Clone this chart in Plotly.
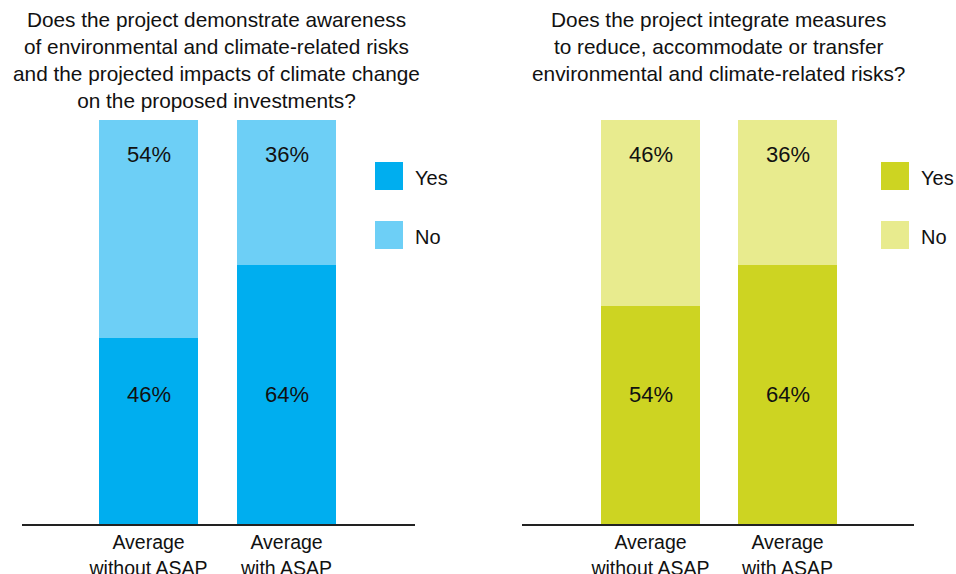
import plotly.graph_objects as go

W, H = 956, 574

categories = ["Average<br>without ASAP", "Average<br>with ASAP"]
awareness_yes = [46, 64]
awareness_no = [54, 36]
measures_yes = [54, 64]
measures_no = [46, 36]

title_left = ("Does the project demonstrate awareness<br>of environmental and climate-related risks"
              "<br>and the projected impacts of climate change<br>on the proposed investments?")
title_right = ("Does the project integrate measures<br>to reduce, accommodate or transfer"
               "<br>environmental and climate-related risks?")
legend_labels = ["Yes", "No"]

blue_yes, blue_no = "#00AEEF", "#6DCFF6"
green_yes, green_no = "#CDD422", "#E8EB8E"

FONT = "Liberation Sans, Arial, Helvetica, sans-serif"

fig = go.Figure()

def px_x(p):
    return p / W

def px_y(p):
    return 1 - p / H

panels = [
    dict(xa="x", ya="y", yes=awareness_yes, no=awareness_no, cy=blue_yes, cn=blue_no),
    dict(xa="x2", ya="y2", yes=measures_yes, no=measures_no, cy=green_yes, cn=green_no),
]

for p in panels:
    fig.add_trace(go.Bar(x=categories, y=p["yes"], marker=dict(color=p["cy"], line=dict(width=0)),
                         width=0.717, xaxis=p["xa"], yaxis=p["ya"], showlegend=False, hoverinfo="skip"))
    fig.add_trace(go.Bar(x=categories, y=p["no"], marker=dict(color=p["cn"], line=dict(width=0)),
                         width=0.717, xaxis=p["xa"], yaxis=p["ya"], showlegend=False, hoverinfo="skip"))
    for c, yv, nv in zip(categories, p["yes"], p["no"]):
        fig.add_annotation(x=c, y=32.0, xref=p["xa"], yref=p["ya"], text=f"{yv}%", showarrow=False,
                           font=dict(size=22, color="#111111", family=FONT))
        fig.add_annotation(x=c, y=91.4, xref=p["xa"], yref=p["ya"], text=f"{nv}%", showarrow=False,
                           font=dict(size=22, color="#111111", family=FONT))

ydom = [px_y(524), px_y(120)]
axis_common = dict(showline=True, linecolor="#222222", linewidth=1.5, ticks="", showgrid=False,
                   zeroline=False, automargin=False,
                   tickfont=dict(size=19.5, color="#111111", family=FONT), fixedrange=True)
fig.update_layout(
    barmode="stack",
    width=W, height=H,
    margin=dict(l=0, r=0, t=0, b=0),
    paper_bgcolor="white", plot_bgcolor="white",
    showlegend=False,
    xaxis=dict(domain=[px_x(22), px_x(415)], range=[-0.917, 1.931], anchor="y", **axis_common),
    xaxis2=dict(domain=[px_x(522), px_x(914)], range=[-0.938, 1.923], anchor="y2", **axis_common),
    yaxis=dict(domain=ydom, range=[0, 100], visible=False, fixedrange=True),
    yaxis2=dict(domain=ydom, range=[0, 100], visible=False, fixedrange=True, anchor="x2"),
)

fig.add_annotation(x=px_x(216), y=px_y(6), xref="paper", yref="paper", text=title_left,
                   showarrow=False, xanchor="center", yanchor="top", align="center",
                   font=dict(size=20.8, color="#111111", family=FONT))
fig.add_annotation(x=px_x(718), y=px_y(6), xref="paper", yref="paper", text=title_right,
                   showarrow=False, xanchor="center", yanchor="top", align="center",
                   font=dict(size=20.8, color="#111111", family=FONT))

for lx, cols in [(375, (blue_yes, blue_no)), (881, (green_yes, green_no))]:
    for i, (lab, col) in enumerate(zip(legend_labels, cols)):
        top = 162 + i * 59
        fig.add_shape(type="rect", xref="paper", yref="paper",
                      x0=px_x(lx), x1=px_x(lx + 28), y0=px_y(top + 28), y1=px_y(top),
                      fillcolor=col, line=dict(width=0))
        fig.add_annotation(x=px_x(lx + 38), y=px_y(top + 16), xref="paper", yref="paper", text=lab,
                           showarrow=False, xanchor="left", yanchor="middle",
                           font=dict(size=20, color="#111111", family=FONT))

fig.write_html("out.html", config={"displayModeBar": False},
               post_script="document.body.style.margin='0';document.body.style.overflow='hidden';")
